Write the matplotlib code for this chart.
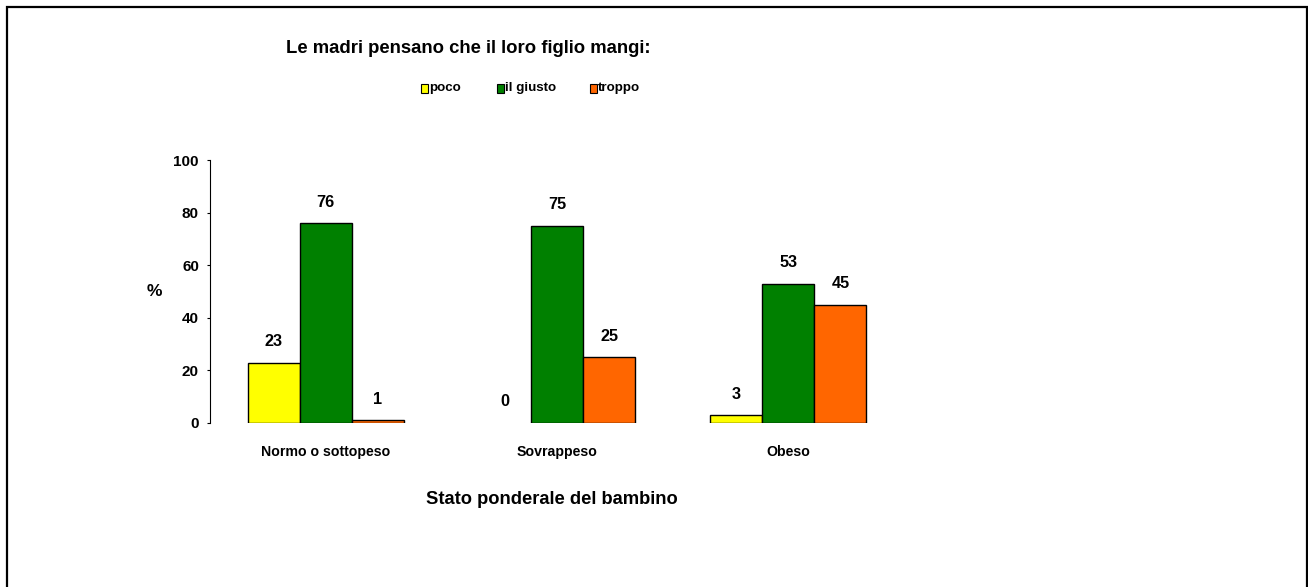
import matplotlib.pyplot as plt
import numpy as np
from matplotlib.patches import Rectangle

plt.rcParams['font.family'] = ['Liberation Sans', 'DejaVu Sans']
plt.rcParams['font.weight'] = 'bold'

categories = ['Normo o sottopeso', 'Sovrappeso', 'Obeso']
series_names = ['poco', 'il giusto', 'troppo']
poco = [23, 0, 3]
giusto = [76, 75, 53]
troppo = [1, 25, 45]
colors = ['#FFFF00', '#008000', '#FF6600']

fig = plt.figure(figsize=(13.08, 5.87), dpi=100)
ax = fig.add_axes([0.1606, 0.2794, 0.5305, 0.448])

x = np.arange(len(categories))
w = 0.225
for i, vals in enumerate([poco, giusto, troppo]):
    pos = x + (i - 1) * w
    edges = ['black' if v > 0 else 'none' for v in vals]
    ax.bar(pos, vals, w, color=colors[i], edgecolor=edges, linewidth=1)
    for xi, v in zip(pos, vals):
        ax.text(xi, v + 8, str(v), ha='center', va='center', fontsize=11.7,
                fontweight='bold')

ax.set_xlim(-0.5, 2.5)
ax.set_ylim(0, 100)
ax.set_yticks([0, 20, 40, 60, 80, 100])
ax.set_xticks(x)
ax.set_xticklabels(categories, fontsize=10.2, fontweight='bold')
ax.tick_params(axis='x', length=0, pad=16)
ax.tick_params(axis='y', length=2.5, direction='out', labelsize=11, pad=5.5)
for lab in ax.get_yticklabels():
    lab.set_fontweight('bold')
for s in ['top', 'right', 'bottom']:
    ax.spines[s].set_visible(False)
ax.spines['left'].set_linewidth(0.8)
ax.set_ylabel('%', fontsize=12.5, fontweight='bold', rotation=0, labelpad=14, va='center')

fig.text(552 / 1308, 1 - 500 / 587, 'Stato ponderale del bambino', ha='center', va='center',
         fontsize=13.2, fontweight='bold')

fig.text(0.358, 0.918, 'Le madri pensano che il loro figlio mangi:', ha='center',
         va='center', fontsize=13.3, fontweight='bold')

# legend, Excel style: fixed slots
legend_x = [421, 497, 590]
legend_y = 1 - 88 / 587
for lx, name, c in zip(legend_x, series_names, colors):
    fig.patches.append(Rectangle((lx / 1308, legend_y - 4.5 / 587), 7 / 1308, 9 / 587,
                                 transform=fig.transFigure, facecolor=c,
                                 edgecolor='black', linewidth=0.8))
    fig.text((lx + 8) / 1308, legend_y, name, ha='left', va='center', fontsize=9.6,
             fontweight='bold')

fig.patches.append(Rectangle((7 / 1308, -0.05), 1300 / 1308, 1.05 - 7 / 587,
                             transform=fig.transFigure, fill=False, edgecolor='black',
                             linewidth=1.6))

fig.savefig('out.png', dpi=100)
